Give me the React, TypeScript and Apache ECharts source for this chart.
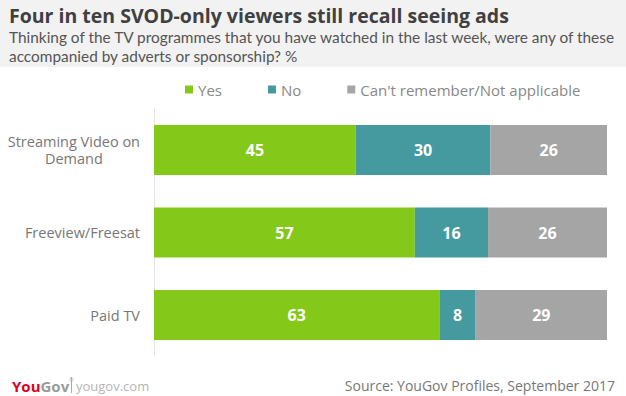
import React, { useEffect, useRef } from "react";
import * as echarts from "echarts";

const categories = ["Streaming Video on\nDemand", "Freeview/Freesat", "Paid TV"];
const seriesNames = ["Yes", "No", "Can't remember/Not applicable"];
const yesValues = [45, 57, 63];
const noValues = [30, 16, 8];
const dontKnowValues = [26, 26, 29];
const colors = ["#84c81a", "#449a9e", "#a5a5a5"];

const FONT = "Open Sans";

export default function App() {
  const ref = useRef<HTMLDivElement>(null);
  useEffect(() => {
    if (!ref.current) return;
    const chart = echarts.init(ref.current, null, { renderer: "svg" });
    const all = [yesValues, noValues, dontKnowValues];
    const totals = categories.map((_, i) => all.reduce((s, arr) => s + arr[i], 0));
    const series = all.map((arr, si) => ({
      name: seriesNames[si],
      type: "bar",
      stack: "total",
      barWidth: 50,
      itemStyle: { color: colors[si] },
      label: {
        show: true,
        position: "inside",
        color: "#fff",
        fontFamily: FONT,
        fontWeight: "bold",
        fontSize: 16,
        formatter: (p: any) => String(arr[p.dataIndex]),
      },
      data: arr.map((v, i) => (v / totals[i]) * 100),
    }));
    chart.setOption({
      animation: false,
      backgroundColor: "#fff",
      textStyle: { fontFamily: FONT },
      legend: {
        left: 180,
        top: 77,
        icon: "rect",
        itemWidth: 8,
        itemHeight: 8,
        itemGap: 46,
        textStyle: { color: "#888", fontSize: 15, fontFamily: FONT },
        data: seriesNames,
      },
      grid: { left: 154, right: 19, top: 108.75, bottom: 39.75, containLabel: false },
      xAxis: {
        type: "value",
        min: 0,
        max: 100,
        show: false,
      },
      yAxis: {
        type: "category",
        inverse: true,
        data: categories,
        axisLine: { show: true, lineStyle: { color: "#e4e4e4", width: 1 } },
        axisTick: { show: false },
        axisLabel: {
          margin: 14,
          color: "#777",
          fontSize: 14.5,
          fontFamily: FONT,
          lineHeight: 17.5,
          formatter: (v: string) =>
            v
              .split("\n")
              .map((l) => "{c|" + l + "}")
              .join("\n"),
          rich: { c: { align: "center", color: "#777", fontSize: 14.5, fontFamily: FONT, lineHeight: 17.5 } },
        },
      },
      graphic: [
        { type: "rect", left: 0, top: 0, shape: { width: 626, height: 67 }, style: { fill: "#f2f2f2" }, z: -1 },
        {
          type: "text",
          left: 9,
          top: 4.5,
          style: {
            text: "Four in ten SVOD-only viewers still recall seeing ads",
            fill: "#404040",
            font: "bold 19.5px 'Open Sans'",
            lineHeight: 22,
          },
        },
        {
          type: "text",
          left: 9,
          top: 27.75,
          style: {
            text: "Thinking of the TV programmes that you have watched in the last week, were any of these\naccompanied by adverts or sponsorship? %",
            fill: "#555",
            font: "15.4px Lato",
            lineHeight: 18.6,
          },
        },
        {
          type: "text",
          left: 12,
          top: 377,
          style: {
            text: "{a|You}{b|Gov}{s|®}",
            lineHeight: 17,
            rich: {
              a: { fill: "#e3001b", font: "bold 15px 'Open Sans'", lineHeight: 17 },
              b: { fill: "#9a9a9a", font: "bold 15px 'Open Sans'", lineHeight: 17 },
              s: { fill: "#9a9a9a", font: "5px 'Open Sans'", verticalAlign: "top" },
            },
          } as any,
        },
        { type: "line", shape: { x1: 71.5, y1: 377, x2: 71.5, y2: 393 }, style: { stroke: "#aaa", lineWidth: 1 } },
        {
          type: "text",
          left: 76,
          top: 377,
          style: { text: "yougov.com", fill: "#b5b5b5", font: "13px 'Open Sans'", lineHeight: 17 },
        },
        {
          type: "text",
          right: 11,
          top: 377,
          style: { text: "Source: YouGov Profiles, September 2017", fill: "#777", font: "14px 'Open Sans'", lineHeight: 17 },
        },
      ],
      series,
    });
    return () => chart.dispose();
  }, []);
  return <div ref={ref} style={{ width: 626, height: 396, position: "absolute", left: 0, top: 0 }} />;
}
